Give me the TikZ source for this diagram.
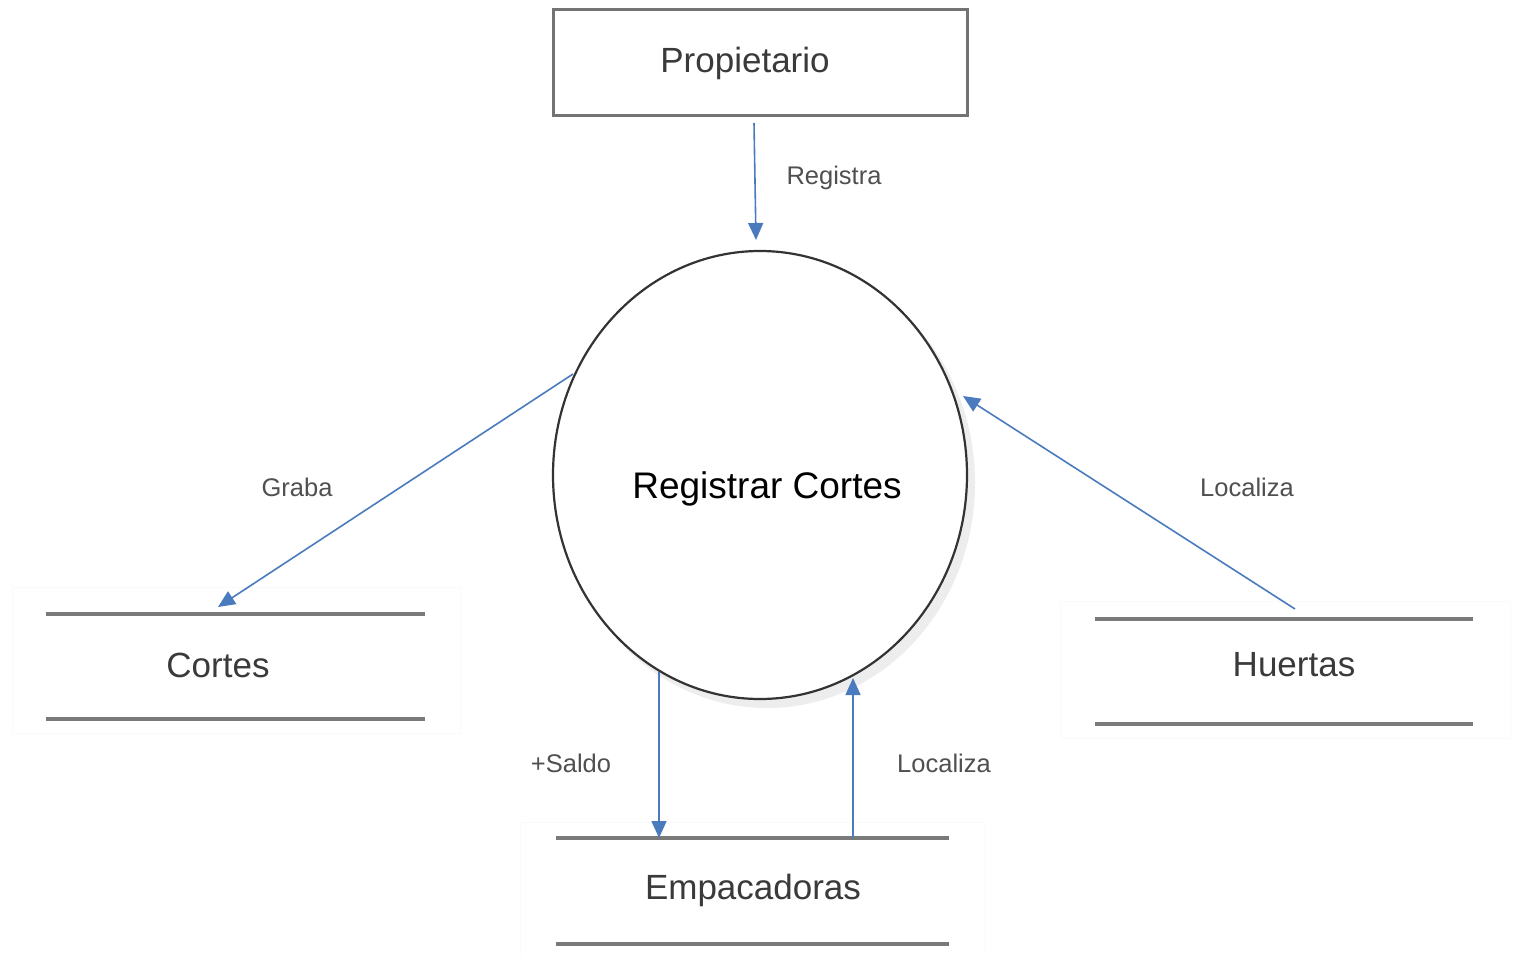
\documentclass[tikz,border=0pt]{standalone}
\usepackage{fontspec}
\setmainfont{Liberation Sans}
\usetikzlibrary{arrows.meta}
\definecolor{flow}{HTML}{4A7BBE}
\definecolor{txt}{HTML}{3A3A3A}
\definecolor{lbl}{HTML}{505050}
\definecolor{storeline}{HTML}{7A7A7A}
\tikzset{
  flowarrow/.style={draw=flow, line width=1.6pt, -{Triangle[length=17pt,width=15pt]}},
  entitybox/.style={draw=black!55, line width=3pt, minimum width=414pt, minimum height=106pt, inner sep=0pt},
  proc/.style={ellipse, draw=black!80, line width=2.2pt, fill=white, minimum width=414pt, minimum height=448pt, inner sep=0pt},
  storeln/.style={draw=storeline, line width=3.5pt},
  ghost/.style={draw=black!2, line width=1pt},
  bigtxt/.style={text=txt, font=\fontsize{35}{42}\selectfont, inner sep=0pt},
  flowlbl/.style={text=lbl, font=\fontsize{25.5}{30}\selectfont, inner sep=0pt}
}
\usetikzlibrary{shapes.geometric}
\begin{document}
\begin{tikzpicture}[x=1pt,y=-1pt]
\useasboundingbox[fill=white] (0,0) rectangle (1515,955);
% faint store frames
\draw[ghost] (12,587) rectangle (460,733);
\draw[ghost] (1060,601) rectangle (1510,738);
\draw[ghost] (520,822) rectangle (985,955);
% entity
\node[entitybox] (prop) at (760,63) {};
\node[bigtxt] (propT) at (745,63) {Propietario};
% process with shadow
\fill[black!7] (767,483) ellipse [x radius=208pt, y radius=225pt];
\node[proc] (pr) at (760,475) {};
\node[text=black, font=\fontsize{37}{44}\selectfont, inner sep=0pt] (prT) at (767,489) {Registrar Cortes};
% stores
\coordinate (c1) at (46,614); \coordinate (c2) at (425,614);
\coordinate (c3) at (46,719); \coordinate (c4) at (425,719);
\draw[storeln] (c1) -- (c2); \draw[storeln] (c3) -- (c4);
\node[bigtxt] (cortes) at (218,665) {Cortes};
\coordinate (h1) at (1095,619); \coordinate (h2) at (1473,619);
\coordinate (h3) at (1095,724); \coordinate (h4) at (1473,724);
\draw[storeln] (h1) -- (h2); \draw[storeln] (h3) -- (h4);
\node[bigtxt] (huertas) at (1294,665) {Huertas};
\coordinate (e1) at (556,838); \coordinate (e2) at (949,838);
\coordinate (e3) at (556,944); \coordinate (e4) at (949,944);
\draw[storeln] (e1) -- (e2); \draw[storeln] (e3) -- (e4);
\node[bigtxt] (emp) at (753,890) {Empacadoras};
% connector end points
\coordinate (regS) at (754,123); \coordinate (regE) at (756,240);
\coordinate (grS) at (573,374); \coordinate (grE) at (218,607);
\coordinate (loS) at (1295,609); \coordinate (loE) at (963,396);
\coordinate (saS) at (659,672); \coordinate (saE) at (659,838);
\coordinate (lbS) at (853,838); \coordinate (lbE) at (853,678);
\draw[flowarrow] (regS) -- (regE);
\draw[flowarrow] (grS) -- (grE);
\draw[flowarrow] (loS) -- (loE);
\draw[flowarrow] (saS) -- (saE);
\draw[flowarrow] (lbS) -- (lbE);
% labels
\node[flowlbl] (l1) at (834,178) {Registra};
\node[flowlbl] (l2) at (297,487) {Graba};
\node[flowlbl] (l3) at (1247,487) {Localiza};
\node[flowlbl] (l4) at (571,763) {+Saldo};
\node[flowlbl] (l5) at (944,763) {Localiza};
\end{tikzpicture}
\end{document}
